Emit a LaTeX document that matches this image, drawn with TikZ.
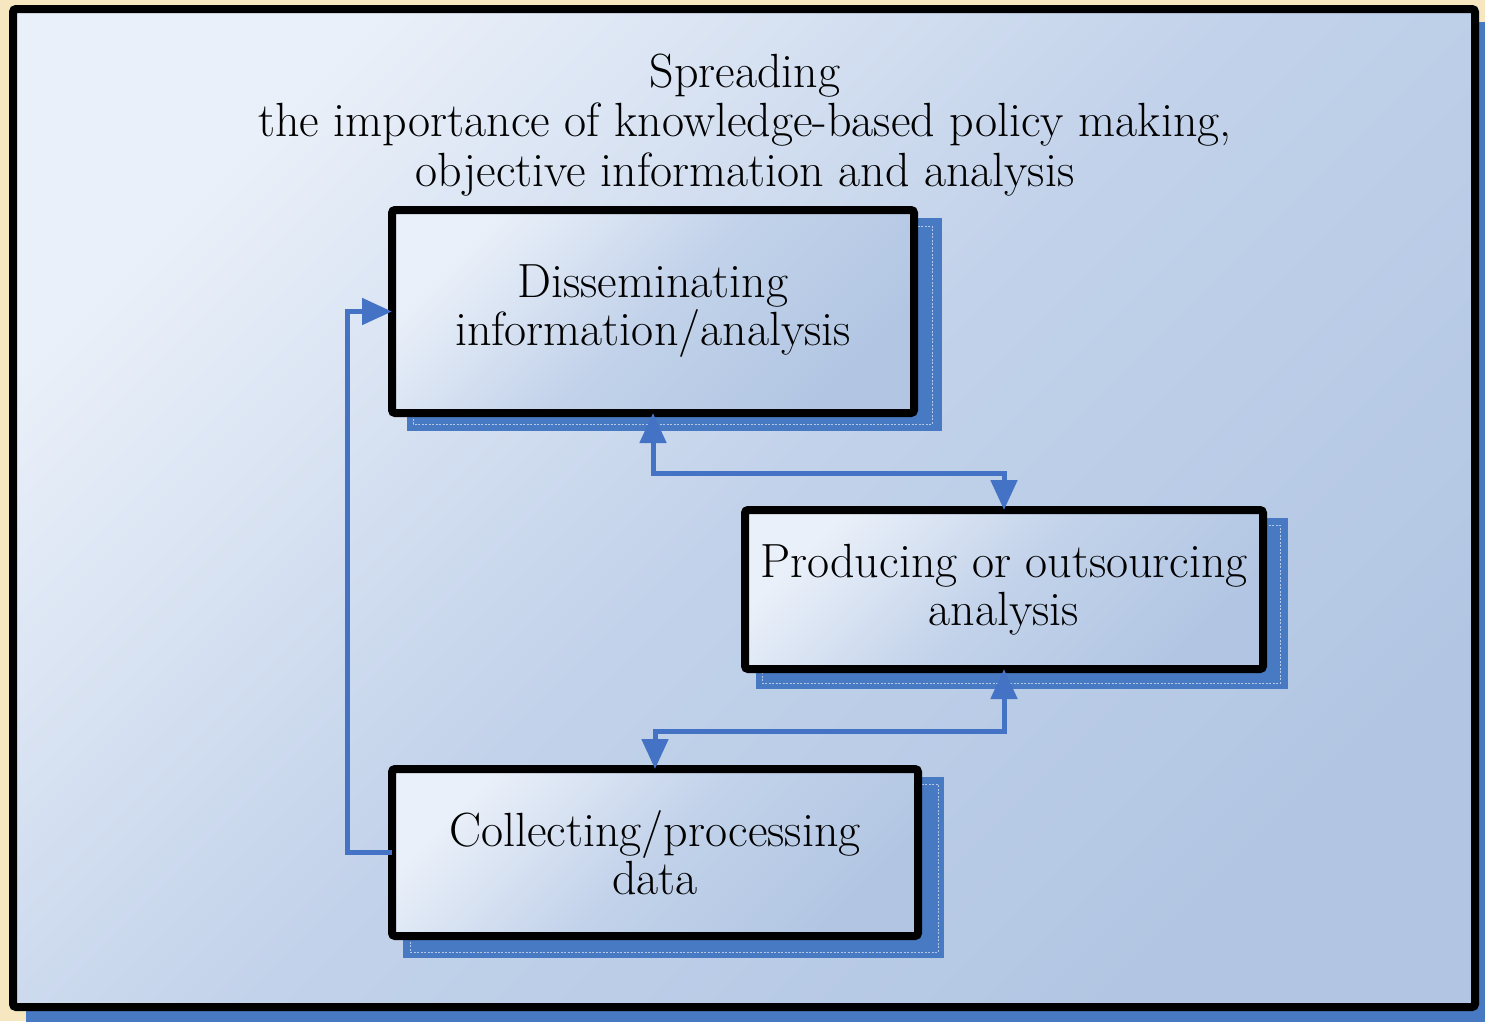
\documentclass[tikz,border=0pt]{standalone}
\usepackage{fontspec}
\usetikzlibrary{arrows.meta}
\definecolor{bgbeige}{RGB}{246,231,193}
\definecolor{shadowblue}{RGB}{72,122,195}
\definecolor{arrowblue}{RGB}{68,114,196}
\definecolor{lightfill}{RGB}{234,240,249}
\definecolor{midfill}{RGB}{194,210,234}
\definecolor{darkfill}{RGB}{178,198,227}
\begin{document}
\begin{tikzpicture}[x=1pt,y=-1pt,
  blackframe/.style={draw=black,line width=8pt,rounded corners=3pt},
  gradfill/.style={shading=axis,top color=lightfill,bottom color=darkfill,middle color=midfill,shading angle=45},
  boxnode/.style={draw=black,line width=8pt,rounded corners=3pt,inner sep=0pt,outer sep=0pt,
    align=center,font=\fontsize{48}{48}\selectfont,gradfill},
  shadowrect/.style={fill=shadowblue},
  innerdash/.style={draw=white,opacity=0.6,line width=1pt,dash pattern=on 2pt off 1.5pt},
  link/.style={draw=arrowblue,line width=5pt},
  tip/.style={arrows={-Triangle[length=30pt,width=26pt]}},
  twotip/.style={arrows={Triangle[length=30pt,width=26pt]-Triangle[length=30pt,width=26pt]}}
]
\useasboundingbox (0,0) rectangle (1485,1021);
\fill[bgbeige] (0,0) rectangle (1485,1021);
% outer frame
\fill[shadowrect] (26,22) rectangle (1500,1040);
\shade[gradfill] (13,9) rectangle (1475,1007);
\draw[blackframe] (13,9) rectangle (1475,1007);

\node (title) [align=center,font=\fontsize{48}{49.5}\selectfont] at (745,125)
  {Spreading\\the importance of knowledge-based policy making,\\objective information and analysis};

% shadows
\fill[shadowrect] (407,218) rectangle (942,431);
\draw[innerdash] (413,226) rectangle (932,424);
\fill[shadowrect] (756,518) rectangle (1288,689);
\draw[innerdash] (762,525) rectangle (1280,683);
\fill[shadowrect] (403,777) rectangle (944,958);
\draw[innerdash] (410,784) rectangle (938,952);

% boxes
\node (dis) [boxnode,minimum width=522pt,minimum height=203pt] at (653,311.5)
  {Disseminating\\information/analysis};
\node (prod) [boxnode,minimum width=518pt,minimum height=159pt] at (1004,589.5)
  {Producing or outsourcing\\analysis};
\node (coll) [boxnode,minimum width=526pt,minimum height=167pt] at (655,852.5)
  {Collecting/processing\\data};

% connectors
\draw[link,tip] (coll.west) -- ++(-45,0) |- (dis.west);
\draw[link,twotip] (dis.south) -- ++(0,60) -| (prod.north);
\draw[link,twotip] (prod.south) -- ++(0,62) -| (coll.north);
\end{tikzpicture}
\end{document}
